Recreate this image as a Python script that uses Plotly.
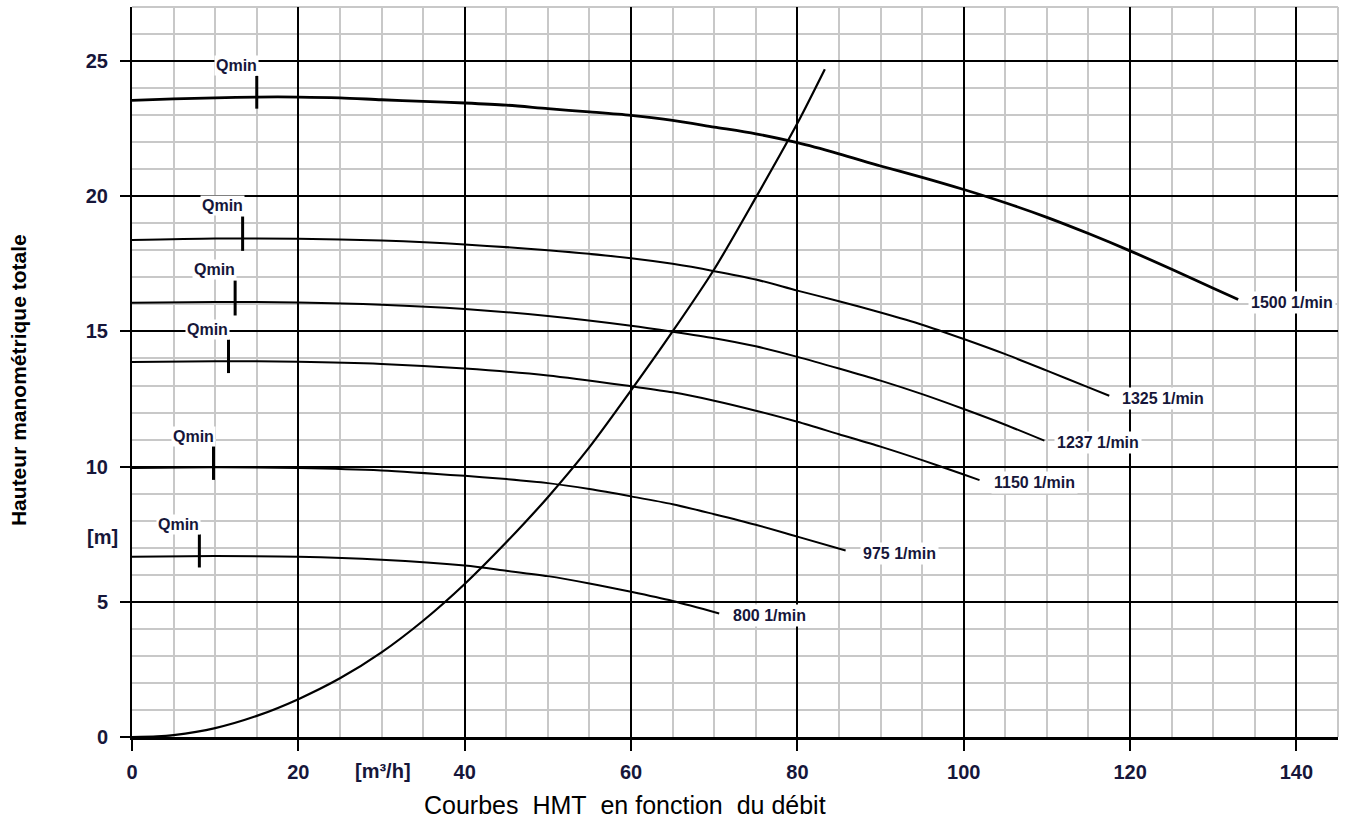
import plotly.graph_objects as go

# ---- data ----
flow_1500 = [0, 5, 10, 15, 20, 25, 30, 35, 40, 45, 50, 55, 60, 65, 70, 75, 80, 85, 90, 95, 100, 105, 110, 115, 120, 125, 130, 133]
head_1500 = [23.55, 23.6, 23.64, 23.67, 23.67, 23.64, 23.57, 23.51, 23.45, 23.37, 23.24, 23.12, 22.99, 22.81, 22.56, 22.31, 21.98, 21.57, 21.12, 20.7, 20.25, 19.76, 19.22, 18.62, 17.98, 17.3, 16.6, 16.18]

flow_1325 = [0, 10, 20, 30, 40, 50, 60, 65, 70, 75, 80, 85, 90, 95, 100, 105, 110, 115, 117.5]
head_1325 = [18.38, 18.44, 18.43, 18.36, 18.22, 18.0, 17.71, 17.5, 17.23, 16.92, 16.51, 16.12, 15.7, 15.25, 14.72, 14.16, 13.55, 12.93, 12.62]

flow_1237 = [0, 10, 20, 30, 40, 50, 60, 65, 70, 75, 80, 85, 90, 95, 100, 105, 109.7]
head_1237 = [16.06, 16.09, 16.07, 15.99, 15.83, 15.57, 15.21, 14.99, 14.75, 14.45, 14.06, 13.63, 13.18, 12.68, 12.13, 11.55, 10.96]

flow_1150 = [0, 10, 20, 30, 40, 50, 60, 65, 70, 75, 80, 85, 90, 95, 100, 101.9]
head_1150 = [13.87, 13.9, 13.88, 13.8, 13.63, 13.37, 12.97, 12.75, 12.44, 12.07, 11.66, 11.2, 10.74, 10.24, 9.71, 9.5]

flow_975 = [0, 10, 20, 30, 40, 45, 50, 55, 60, 65, 70, 75, 80, 85.8]
head_975 = [9.95, 9.98, 9.95, 9.86, 9.66, 9.54, 9.39, 9.17, 8.9, 8.61, 8.24, 7.85, 7.41, 6.9]

flow_800 = [0, 10, 20, 30, 40, 45, 50, 55, 60, 65, 70.6]
head_800 = [6.67, 6.69, 6.67, 6.56, 6.34, 6.15, 5.95, 5.68, 5.37, 5.03, 4.57]

flow_system = [0, 3, 5, 10, 15, 20, 25, 30, 35, 40, 45, 50, 55, 60, 65, 70, 75, 80, 83.3]
head_system = [0, 0.02, 0.07, 0.33, 0.78, 1.4, 2.17, 3.13, 4.3, 5.66, 7.2, 8.87, 10.72, 12.82, 15.0, 17.3, 19.95, 22.7, 24.7]

speed_labels = ["1500 1/min", "1325 1/min", "1237 1/min", "1150 1/min", "975 1/min", "800 1/min"]
speed_label_x = [134.6, 119.2, 111.3, 103.7, 88.0, 72.4]
speed_label_y = [16.08, 12.53, 10.9, 9.41, 6.78, 4.5]

qmin_x = [15.0, 13.3, 12.4, 11.6, 9.8, 8.1]
qmin_top = [24.45, 19.25, 16.88, 14.7, 10.76, 7.5]
qmin_bottom = [23.24, 17.98, 15.59, 13.46, 9.51, 6.27]
qmin_label_y = [24.85, 19.66, 17.28, 15.07, 11.13, 7.87]

x_ticks = [0, 20, 40, 60, 80, 100, 120, 140]
y_ticks = [0, 5, 10, 15, 20, 25]

title_text = "Courbes\u00a0 HMT\u00a0 en fonction\u00a0 du débit"
y_title = "Hauteur manométrique totale"

NAVY = "#16163a"
FONT = "Arial, Liberation Sans, sans-serif"

fig = go.Figure()

curves = [
    (flow_1500, head_1500, 2.8),
    (flow_1325, head_1325, 2.0),
    (flow_1237, head_1237, 2.0),
    (flow_1150, head_1150, 2.0),
    (flow_975, head_975, 2.0),
    (flow_800, head_800, 2.0),
]
for xs, ys, w in curves:
    fig.add_trace(go.Scatter(x=xs, y=ys, mode="lines",
                             line=dict(color="black", width=w, shape="spline", smoothing=0.8),
                             hoverinfo="skip", showlegend=False))

fig.add_trace(go.Scatter(x=flow_system, y=head_system, mode="lines",
                         line=dict(color="black", width=2.2, shape="spline", smoothing=0.8),
                         hoverinfo="skip", showlegend=False))

# Qmin markers
for qx, qt, qb in zip(qmin_x, qmin_top, qmin_bottom):
    fig.add_trace(go.Scatter(x=[qx, qx], y=[qb, qt], mode="lines",
                             line=dict(color="black", width=3),
                             hoverinfo="skip", showlegend=False))

annotations = []
for qx, ly in zip(qmin_x, qmin_label_y):
    annotations.append(dict(x=qx, y=ly, xref="x", yref="y", text="Qmin", showarrow=False,
                            xanchor="right", yanchor="middle", xshift=2,
                            bgcolor="white", borderpad=1,
                            font=dict(family=FONT, size=16, color=NAVY, weight="bold")))
for t, lx, ly in zip(speed_labels, speed_label_x, speed_label_y):
    annotations.append(dict(x=lx, y=ly, xref="x", yref="y", text=t, showarrow=False,
                            xanchor="left", yanchor="middle", xshift=-4,
                            bgcolor="white", borderpad=2,
                            font=dict(family=FONT, size=16, color=NAVY, weight="bold")))

# unit labels
annotations.append(dict(x=30.2, y=0, xref="x", yref="paper", yshift=-34, text="[m³/h]",
                        showarrow=False, xanchor="center", yanchor="middle",
                        font=dict(family=FONT, size=20, color=NAVY, weight="bold")))
annotations.append(dict(x=0, y=7.38, xref="paper", yref="y", xshift=-29.5, text="[m]",
                        showarrow=False, xanchor="center", yanchor="middle",
                        font=dict(family=FONT, size=20, color=NAVY, weight="bold")))
# y title
annotations.append(dict(x=0, y=0.4883, xref="paper", yref="paper", xshift=-113.5,
                        text=y_title, textangle=-90, showarrow=False,
                        xanchor="center", yanchor="middle",
                        font=dict(family=FONT, size=21, color="black", weight="bold")))
# bottom title
annotations.append(dict(x=0.4086, y=0, xref="paper", yref="paper", yshift=-67.5,
                        text=title_text, showarrow=False, xanchor="center", yanchor="middle",
                        font=dict(family=FONT, size=25, color="black")))

shapes = [
    dict(type="line", xref="paper", yref="paper", x0=0, x1=1, y0=1, y1=1,
         line=dict(color="#c8c8c8", width=2), layer="below"),
    dict(type="line", xref="paper", yref="paper", x0=1, x1=1, y0=0, y1=1,
         line=dict(color="#c8c8c8", width=2), layer="below"),
]

fig.update_layout(
    width=1350, height=823,
    margin=dict(l=132, r=12, t=7, b=86),
    paper_bgcolor="white", plot_bgcolor="white",
    showlegend=False,
    annotations=annotations,
    shapes=shapes,
    xaxis=dict(range=[0, 145], tickvals=x_ticks, showgrid=True, gridcolor="black", gridwidth=1.5,
               zeroline=False, showline=True, linecolor="black", linewidth=3,
               ticks="outside", ticklen=11, tickwidth=1.5, tickcolor="black",
               ticklabelstandoff=4,
               tickfont=dict(family=FONT, size=20, color=NAVY, weight="bold"),
               minor=dict(dtick=5, tick0=0, showgrid=True, gridcolor="#c8c8c8", gridwidth=1.5, ticks=""),
               fixedrange=True),
    yaxis=dict(range=[0, 27], tickvals=y_ticks, showgrid=True, gridcolor="black", gridwidth=1.5,
               zeroline=False, showline=True, linecolor="black", linewidth=2,
               ticks="outside", ticklen=10, tickwidth=1.5, tickcolor="black",
               ticklabelstandoff=8,
               tickfont=dict(family=FONT, size=20, color=NAVY, weight="bold"),
               minor=dict(dtick=1, tick0=0, showgrid=True, gridcolor="#c8c8c8", gridwidth=1.5, ticks=""),
               fixedrange=True),
)

fig.write_html("out.html", config={"displayModeBar": False},
               post_script="document.body.style.margin='0';document.body.style.overflow='hidden';")
